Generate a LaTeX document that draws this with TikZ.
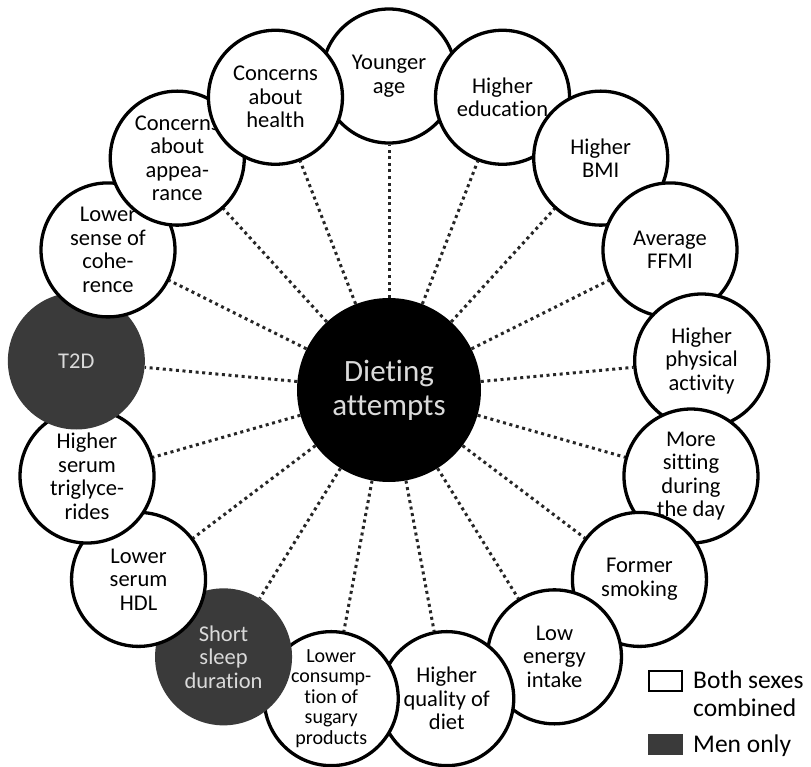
\documentclass[tikz,border=0pt]{standalone}
\usepackage{fontspec}
\setmainfont[Ligatures={TeX,NoCommon}]{Carlito}
\usetikzlibrary{positioning, backgrounds}
\definecolor{MenGrey}{HTML}{3A3A3A}
\definecolor{LabelGrey}{HTML}{DADADA}

\begin{document}
\begin{tikzpicture}[
  x=1pt, y=1pt,
  every node/.style={font=\fontsize{22.5}{23.5}\selectfont, align=center},
  hub/.style={circle, fill=black, text=LabelGrey, minimum size=184pt, inner sep=0pt,
    font=\fontsize{31}{34}\selectfont},
  both/.style={circle, draw=black, line width=3.3pt, fill=white, minimum size=134pt,
    inner sep=0pt},
  menonly/.style={circle, fill=MenGrey, text=LabelGrey, minimum size=137pt, inner sep=0pt},
  link/.style={line width=3pt, dash pattern=on 3pt off 3.6pt, black!85},
  keybox/.style={draw=black, line width=2pt, minimum width=33pt, minimum height=20pt,
    inner sep=0pt},
  keytext/.style={font=\fontsize{25.5}{28}\selectfont, align=left, inner sep=0pt}
]
  \useasboundingbox (-389, 390) rectangle (422, -376);

  % Hub
  \node[hub] (hub) at (0, 0) {Dieting\\attempts};

  % Factors, clockwise from the top (each one drawn over the one before)
  \node[both] (age) at (90:314) {Younger\\age};
  \node[both] (edu) at (68.8:314) {Higher\\education};
  \node[both] (bmi) at (47.6:314) {Higher\\BMI};
  \node[both] (ffmi) at (26.5:314) {Average\\FFMI};
  \node[both] (pa) at (5.3:314) {Higher\\physical\\activity};
  \node[both] (sit) at (-15.9:314) {More\\sitting\\during\\the day};
  \node[both] (smoke) at (-37.1:314) {Former\\smoking};
  \node[both] (energy) at (-58.2:314) {Low\\energy\\intake};
  \node[both] (diet) at (-79.4:314) {Higher\\quality of\\diet};
  \node[both, font=\fontsize{20}{20.5}\selectfont] (sugar) at (-100.6:314)
    {Lower\\consump-\\tion of\\sugary\\products};
  \node[menonly] (sleep) at (-121.8:314) {Short\\sleep\\duration};
  \node[both] (hdl) at (-142.9:314) {Lower\\serum\\HDL};
  \node[both] (tg) at (-164.1:314) {Higher\\serum\\triglyce-\\rides};
  \node[menonly] (t2d) at (174.7:314) {T2D};
  \node[both] (soc) at (153.5:314) {Lower\\sense of\\cohe-\\rence};
  \node[both] (look) at (132.4:314) {\raisebox{-8pt}{Concerns}\\\raisebox{-8pt}{about}\\
    \raisebox{-8pt}{appea-}\\\raisebox{-8pt}{rance}};
  \node[both] (health) at (111.2:314) {Concerns\\about\\health};

  % Dotted links behind the circles
  \begin{scope}[on background layer]
    \draw[link] (hub) -- (age);
    \draw[link] (hub) -- (edu);
    \draw[link] (hub) -- (bmi);
    \draw[link] (hub) -- (ffmi);
    \draw[link] (hub) -- (pa);
    \draw[link] (hub) -- (sit);
    \draw[link] (hub) -- (smoke);
    \draw[link] (hub) -- (energy);
    \draw[link] (hub) -- (diet);
    \draw[link] (hub) -- (sugar);
    \draw[link] (hub) -- (sleep);
    \draw[link] (hub) -- (hdl);
    \draw[link] (hub) -- (tg);
    \draw[link] (hub) -- (t2d);
    \draw[link] (hub) -- (soc);
    \draw[link] (hub) -- (look);
    \draw[link] (hub) -- (health);
  \end{scope}

  % Legend
  \node[keybox, fill=white] (keyboth) at (276.5, -291) {};
  \node[keybox, draw=none, fill=MenGrey, minimum width=35pt, minimum height=21pt]
    (keymen) at (276.5, -354.5) {};
  \node[keytext, anchor=north west] (keybothtxt) at (304, -281) {Both sexes\\combined};
  \node[keytext, anchor=base west] (keymentxt) at (304, -362) {Men only};
\end{tikzpicture}
\end{document}
